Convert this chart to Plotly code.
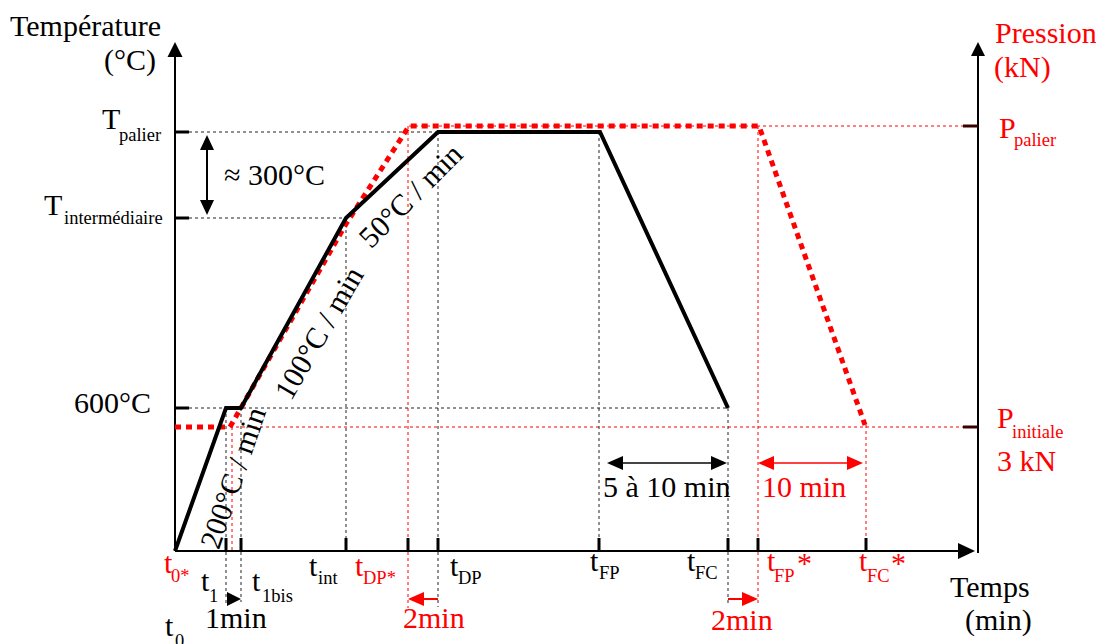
import plotly.graph_objects as go

# ---------------- data (schematic units: time u, level v) ----------------
# temperature profile (black, solid)
temp_t = [0, 51, 66, 171, 263, 425, 553]
temp_v = [0, 143, 143, 333, 419, 419, 143]

# pressure profile (red, dotted)
press_t = [0, 55, 171, 234, 584, 690]
press_v = [124, 124, 327, 425, 425, 126]

# named instants on the time axis
t_main = ["t", "t", "t", "t", "t", "t", "t", "t", "t", "t"]
t_subs = ["0*", "1", "1bis", "int", "DP*", "DP", "FP", "FC", "FP", "FC"]
t_vals = [0, 51, 66, 171, 233, 263, 424, 553, 583, 691]
t_cols = ["red", "black", "black", "black", "red", "black", "black", "black", "red", "red"]

# temperature levels
T_levels = [143, 333, 419]          # 600°C, T intermédiaire, T palier
P_levels = [124, 425]               # P initiale, P palier

FONT = "Liberation Serif, Times New Roman, serif"
X0, Y0 = 175, 551                   # origin in page pixels
MAIN = 30
SUB = 18.5


def U(x):
    return x - X0


def V(y):
    return Y0 - y


fig = go.Figure()
shapes = []
annotations = []


def seg(x0, y0, x1, y1, color="black", width=1, dash="solid"):
    fig.add_trace(go.Scatter(x=[x0, x1], y=[y0, y1], mode="lines",
                             line=dict(color=color, width=width, dash=dash),
                             hoverinfo="skip", showlegend=False))


def head(tx, ty, direction, length, half, color="black"):
    # triangle with tip at (tx,ty) in data units
    if direction == "right":
        p = f"M {tx},{ty} L {tx-length},{ty+half} L {tx-length},{ty-half} Z"
    elif direction == "left":
        p = f"M {tx},{ty} L {tx+length},{ty+half} L {tx+length},{ty-half} Z"
    elif direction == "up":
        p = f"M {tx},{ty} L {tx-half},{ty-length} L {tx+half},{ty-length} Z"
    else:
        p = f"M {tx},{ty} L {tx-half},{ty+length} L {tx+half},{ty+length} Z"
    shapes.append(dict(type="path", path=p, fillcolor=color,
                       line=dict(color=color, width=0), xref="x", yref="y"))


def txt(s, x, y, size=MAIN, color="black", xanchor="center", angle=0):
    annotations.append(dict(text=s, x=U(x), y=V(y), xref="x", yref="y",
                            showarrow=False, xanchor=xanchor, yanchor="middle",
                            textangle=angle,
                            font=dict(family=FONT, size=size, color=color)))


dotk = "#222222"
dotr = "#ff0000"

# ---------------- guide lines ----------------
seg(14, T_levels[0], temp_t[6], T_levels[0], dotk, 1, "dot")
seg(14, T_levels[1], temp_t[3], T_levels[1], dotk, 1, "dot")
seg(14, T_levels[2], temp_t[5], T_levels[2], dotk, 1, "dot")
seg(press_t[3], P_levels[1], 788, P_levels[1], dotr, 1, "dot")
seg(press_t[1], P_levels[0], 788, P_levels[0], dotr, 1, "dot")

seg(t_vals[1], T_levels[0], t_vals[1], -54, dotk, 1, "dot")
seg(t_vals[2], T_levels[0], t_vals[2], -51, dotk, 1, "dot")
seg(t_vals[3], T_levels[1], t_vals[3], 0, dotk, 1, "dot")
seg(t_vals[5], T_levels[2], t_vals[5], -56, dotk, 1, "dot")
seg(t_vals[6], T_levels[2], t_vals[6], 0, dotk, 1, "dot")
seg(t_vals[7], T_levels[0], t_vals[7], -54, dotk, 1, "dot")
seg(57, P_levels[0], 57, 0, dotr, 1, "dot")
seg(t_vals[4], P_levels[1], t_vals[4], -57, dotr, 1, "dot")
seg(t_vals[8], P_levels[1], t_vals[8], -54, dotr, 1, "dot")
seg(t_vals[9], press_v[5], t_vals[9], 0, dotr, 1, "dot")

# ---------------- axes ----------------
seg(0, 0, 785, 0, "black", 2)
head(800, 0, "right", 17, 8)
seg(0, 0, 0, 494, "black", 2)
head(0, 509, "up", 15, 7.5)
seg(803, -2, 803, 496, "black", 2)
head(803, 509, "up", 14, 7)

for tv in t_vals[1:]:
    seg(tv, 0, tv, 13, "black", 3)
for lv in T_levels:
    seg(0, lv, 14, lv, "black", 3)
for lv in P_levels:
    seg(788, lv, 803, lv, "#3a0000", 3)

# ---------------- curves ----------------
fig.add_trace(go.Scatter(x=press_t, y=press_v, mode="lines",
                         line=dict(color="#ff0000", width=5, dash="6px,5px"),
                         hoverinfo="skip", showlegend=False))
fig.add_trace(go.Scatter(x=temp_t, y=temp_v, mode="lines",
                         line=dict(color="black", width=4),
                         hoverinfo="skip", showlegend=False))

# ---------------- annotation arrows ----------------
seg(32, 401, 32, 351, "black", 2)
head(32, 416, "up", 15, 7)
head(32, 336, "down", 15, 7)
seg(446, 88, 538, 88, "#444444", 2)
head(432, 88, "left", 16, 7)
head(552, 88, "right", 16, 7)
seg(597, 88, 674, 88, "#ff4040", 2)
head(583, 88, "left", 16, 7, "#ff0000")
head(688, 88, "right", 16, 7, "#ff0000")
head(66, -48, "right", 14, 7)
seg(247, -48, 263, -48, "#ff0000", 2)
head(233, -48, "left", 16, 7, "#ff0000")
seg(553, -48, 569, -48, "#ff0000", 2)
head(583, -48, "right", 16, 7, "#ff0000")

# ---------------- texts ----------------
txt("Température", 85, 25)
txt("(°C)", 158, 60, xanchor="right")
txt("T", 100, 118, xanchor="left")
txt("palier", 117, 135, SUB, xanchor="left")
txt("T", 42, 204, xanchor="left")
txt("intermédiaire", 62, 218, SUB, xanchor="left")
txt("600°C", 153, 402, xanchor="right")
txt("≈ 300°C", 222, 174, xanchor="left")
txt("100°C / min", 318, 333, angle=-60)
txt("200°C / min", 232, 478, angle=-71)
txt("50°C / min", 410, 195, angle=-45)
txt("5 à 10 min", 667, 486)
txt("10 min", 804, 486, color="red")

txt("Pression", 993, 32, color="red", xanchor="left")
txt("(kN)", 992, 67, color="red", xanchor="left")
txt("P", 997, 127, color="red", xanchor="left")
txt("palier", 1012, 140, SUB, color="red", xanchor="left")
txt("P", 995, 417, color="red", xanchor="left")
txt("initiale", 1010, 432, SUB, color="red", xanchor="left")
txt("3 kN", 995, 460, color="red", xanchor="left")
txt("Temps", 948, 586, xanchor="left")
txt("(min)", 963, 620, xanchor="left")

t_pos = [(162, 562, 169, 576), (199, 580, 207, 596), (250, 580, 260, 596),
         (307, 565, 316, 578), (353, 565, 361, 578), (448, 565, 456, 578),
         (588, 560, 597, 573), (685, 560, 693, 573), (765, 560, 772, 576),
         (857, 560, 865, 576)]
for name, sub, col, (tx, ty, sx, sy) in zip(t_main, t_subs, t_cols, t_pos):
    txt(name, tx, ty, MAIN, col, "left")
    txt(sub, sx, sy, SUB, col, "left")
txt("*", 795, 562, MAIN, "red", "left")
txt("*", 889, 562, MAIN, "red", "left")
txt("t", 163, 625, MAIN, "black", "left")
txt("0", 173, 641, SUB, "black", "left")

txt("1min", 236, 617)
txt("2min", 434, 617, color="red")
txt("2min", 742, 619, color="red")

fig.update_layout(
    width=1096, height=644,
    margin=dict(l=0, r=0, t=0, b=0),
    paper_bgcolor="white", plot_bgcolor="white",
    xaxis=dict(range=[-175, 921], visible=False, fixedrange=True),
    yaxis=dict(range=[-93, 551], visible=False, fixedrange=True),
    shapes=shapes, annotations=annotations, showlegend=False,
)

fig.write_html("out.html", config={"displayModeBar": False},
               post_script="document.body.style.margin='0';document.body.style.overflow='hidden';")
